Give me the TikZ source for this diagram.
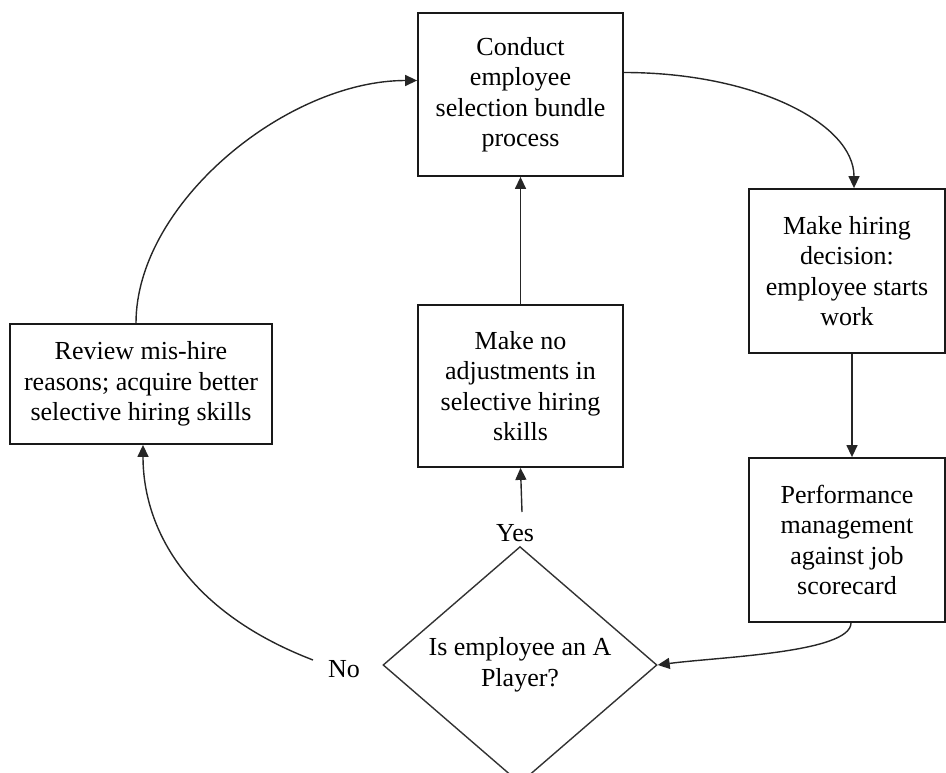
\documentclass[tikz,border=0pt]{standalone}
\usepackage{fontspec}
\setmainfont{Liberation Serif}
\usetikzlibrary{arrows.meta,shapes.geometric}
\begin{document}
\begin{tikzpicture}[x=1pt,y=-1pt,
  txt/.style={font=\fontsize{26}{30.5}\selectfont},
  box/.style={draw,line width=1.8pt,align=center,inner sep=0pt,txt,draw=black!90},
  dec/.style={draw,diamond,line width=1.4pt,align=center,inner sep=0pt,txt,draw=black!80},
  conn/.style={line width=1.4pt,draw=black!85,-{Triangle[length=12pt,width=11pt]}},
  lbl/.style={inner sep=0pt,txt}]
\useasboundingbox (0,0) rectangle (946,773);
\node[box,minimum width=205pt,minimum height=163pt] (top) at (520.5,94.5) {Conduct\\employee\\selection bundle\\process};
\node[box,minimum width=196pt,minimum height=164pt] (hire) at (847,271) {Make hiring\\decision:\\employee starts\\work};
\node[box,minimum width=196pt,minimum height=164pt] (perf) at (847,540) {Performance\\management\\against job\\scorecard};
\node[box,minimum width=262pt,minimum height=120pt] (rev) at (141,384) {Review mis-hire\\reasons; acquire better\\selective hiring skills};
\node[box,minimum width=205pt,minimum height=162pt] (keep) at (520.5,386) {Make no\\adjustments in\\selective hiring\\skills};
\node[dec,minimum width=274pt,minimum height=222pt] (ask) at (520,665) {Is employee an A\\Player?};
\node[lbl] (yes) at (515,533) {Yes};
\node[lbl] (no) at (344,669) {No};
\coordinate (ya) at (522,512);
\coordinate (na) at (313,660);
\draw[conn] ([yshift=22pt]top.east) .. controls +(130,0) and +(0,-65) .. ([xshift=7pt]hire.north);
\draw[conn] ([xshift=5pt]hire.south) -- ([xshift=5pt]perf.north);
\draw[conn] ([xshift=4pt]perf.south) .. controls +(0,30) and +(60,-8) .. (ask.east);
\draw[conn] (ya) -- (keep.south);
\draw[conn] (keep.north) -- (top.south);
\draw[conn] (na) .. controls +(-130,-50) and +(0,80) .. ([xshift=2pt]rev.south);
\draw[conn] ([xshift=-5pt]rev.north) .. controls +(0,-120) and +(-130,0) .. ([yshift=14pt]top.west);
\end{tikzpicture}
\end{document}
